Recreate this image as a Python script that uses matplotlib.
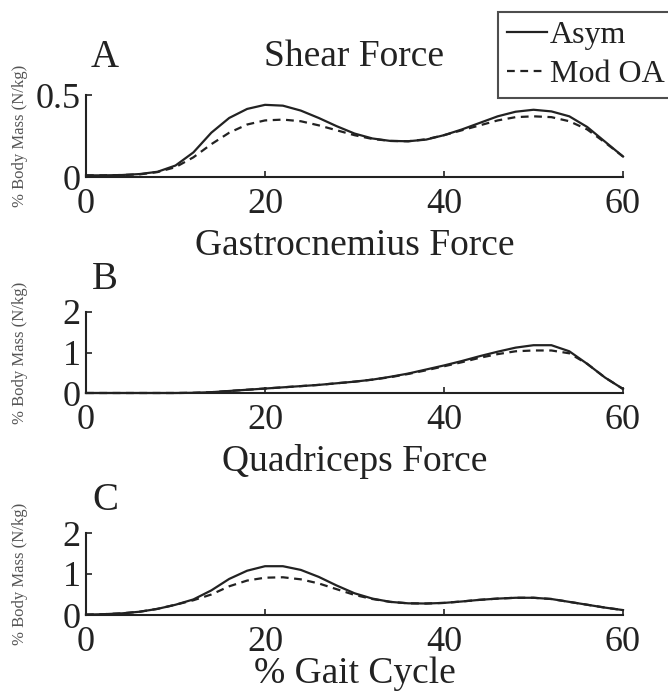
import matplotlib
matplotlib.use("Agg")
import matplotlib.pyplot as plt
from matplotlib.lines import Line2D

# ---------------- data ----------------
gait = [0, 2, 4, 6, 8, 10, 12, 14, 16, 18, 20, 22, 24, 26, 28, 30,
        32, 34, 36, 38, 40, 42, 44, 46, 48, 50, 52, 54, 56, 58, 60]

shear_asym = [0.010, 0.010, 0.012, 0.018, 0.032, 0.070, 0.150, 0.270, 0.360, 0.415, 0.440,
              0.435, 0.405, 0.360, 0.310, 0.265, 0.235, 0.220, 0.218, 0.228, 0.255,
              0.290, 0.330, 0.370, 0.398, 0.410, 0.400, 0.370, 0.305, 0.215, 0.125]
shear_modoa = [0.010, 0.010, 0.012, 0.016, 0.030, 0.060, 0.120, 0.200, 0.270, 0.320, 0.345,
               0.350, 0.340, 0.315, 0.285, 0.255, 0.232, 0.220, 0.218, 0.230, 0.255,
               0.285, 0.315, 0.345, 0.365, 0.370, 0.365, 0.340, 0.290, 0.210, 0.125]

gastroc_asym = [0.0, 0.0, 0.0, 0.0, 0.0, 0.0, 0.005, 0.02, 0.05, 0.08, 0.11,
                0.14, 0.17, 0.20, 0.24, 0.28, 0.33, 0.40, 0.48, 0.58, 0.68,
                0.79, 0.91, 1.02, 1.12, 1.18, 1.18, 1.03, 0.72, 0.38, 0.10]
gastroc_modoa = [0.0, 0.0, 0.0, 0.0, 0.0, 0.0, 0.005, 0.02, 0.05, 0.08, 0.11,
                 0.14, 0.17, 0.20, 0.24, 0.28, 0.33, 0.39, 0.47, 0.56, 0.66,
                 0.76, 0.87, 0.96, 1.03, 1.05, 1.05, 0.98, 0.72, 0.38, 0.10]

quad_asym = [0.01, 0.02, 0.04, 0.08, 0.15, 0.25, 0.38, 0.60, 0.88, 1.08, 1.19,
             1.19, 1.10, 0.93, 0.72, 0.53, 0.40, 0.32, 0.285, 0.28, 0.295,
             0.33, 0.37, 0.40, 0.42, 0.42, 0.39, 0.32, 0.25, 0.18, 0.12]
quad_modoa = [0.01, 0.02, 0.04, 0.08, 0.15, 0.25, 0.36, 0.50, 0.70, 0.84, 0.91,
              0.92, 0.87, 0.77, 0.63, 0.49, 0.39, 0.32, 0.285, 0.28, 0.295,
              0.33, 0.37, 0.40, 0.42, 0.42, 0.39, 0.32, 0.25, 0.18, 0.12]

panels = [
    ("A", "Shear Force", shear_asym, shear_modoa, [0, 0.5], ["0", "0.5"], 0.5),
    ("B", "Gastrocnemius Force", gastroc_asym, gastroc_modoa, [0, 1, 2], ["0", "1", "2"], 2),
    ("C", "Quadriceps Force", quad_asym, quad_modoa, [0, 1, 2], ["0", "1", "2"], 2),
]
xticks = [0, 20, 40, 60]
xticklabels = ["0", "20", "40", "60"]
series_names = ["Asym", "Mod OA"]
ylabel = "% Body Mass (N/kg)"
xlabel = "% Gait Cycle"

# ---------------- layout ----------------
W, H = 668, 692
plt.rcParams['font.family'] = ['Liberation Serif', 'DejaVu Serif']
FS_TICK = 26
FS_TITLE = 27
INK = "#222222"
DASH = (0, (3.5, 2.5))

fig = plt.figure(figsize=(W / 100, H / 100), dpi=100)

boxes = [(95, 177), (312, 393), (533, 615)]
left_px, right_px = 86, 623
title_base = [66, 255, 471]
letter_base = [67, 289, 510]

def fy(py):
    return 1 - py / H

for i, (letter, title, a, m, yt, ytl, ymax) in enumerate(panels):
    top, bot = boxes[i]
    ax = fig.add_axes([left_px / W, fy(bot), (right_px - left_px) / W, (bot - top) / H])
    ax.plot(gait, a, color=INK, lw=1.6, ls='-', clip_on=False, zorder=3)
    ax.plot(gait, m, color=INK, lw=1.6, ls=DASH, clip_on=False, zorder=3)
    ax.set_xlim(0, 60)
    ax.set_ylim(0, ymax)
    ax.set_xticks(xticks)
    ax.set_xticklabels(xticklabels)
    ax.set_yticks(yt)
    ax.set_yticklabels(ytl)
    for s in ("top", "right"):
        ax.spines[s].set_visible(False)
    for s in ("left", "bottom"):
        ax.spines[s].set_color(INK)
        ax.spines[s].set_linewidth(1.5)
    ax.tick_params(axis='both', direction='in', length=4, width=1.2, color=INK,
                   labelsize=FS_TICK, labelcolor=INK)
    ax.tick_params(axis='x', pad=8)
    ax.tick_params(axis='y', pad=4)
    ax.set_ylabel(ylabel, fontsize=12, color="#555555", labelpad=0)
    ax.yaxis.set_label_coords(-58 / (right_px - left_px), 0.5)
    fig.text(((left_px + right_px) / 2) / W, fy(title_base[i]), title, fontsize=FS_TITLE,
             ha='center', va='baseline', color=INK)
    fig.text(105 / W, fy(letter_base[i]), letter, fontsize=28,
             ha='center', va='baseline', color=INK)

fig.text(((left_px + right_px) / 2) / W, fy(683), xlabel, fontsize=FS_TITLE,
         ha='center', va='baseline', color=INK)

# legend
handles = [Line2D([], [], color=INK, lw=1.6, ls='-'),
           Line2D([], [], color=INK, lw=1.6, ls=DASH)]
leg = fig.legend(handles, series_names, loc='upper left',
                 bbox_to_anchor=(498 / W, fy(12)), bbox_transform=fig.transFigure,
                 fontsize=23, frameon=True, fancybox=False, borderpad=0.28,
                 handlelength=1.25, handletextpad=0.1, labelspacing=0.3,
                 borderaxespad=0)
leg.get_frame().set_edgecolor(INK)
leg.get_frame().set_linewidth(1.5)
for t in leg.get_texts():
    t.set_color(INK)

fig.savefig("out.png", dpi=100)
